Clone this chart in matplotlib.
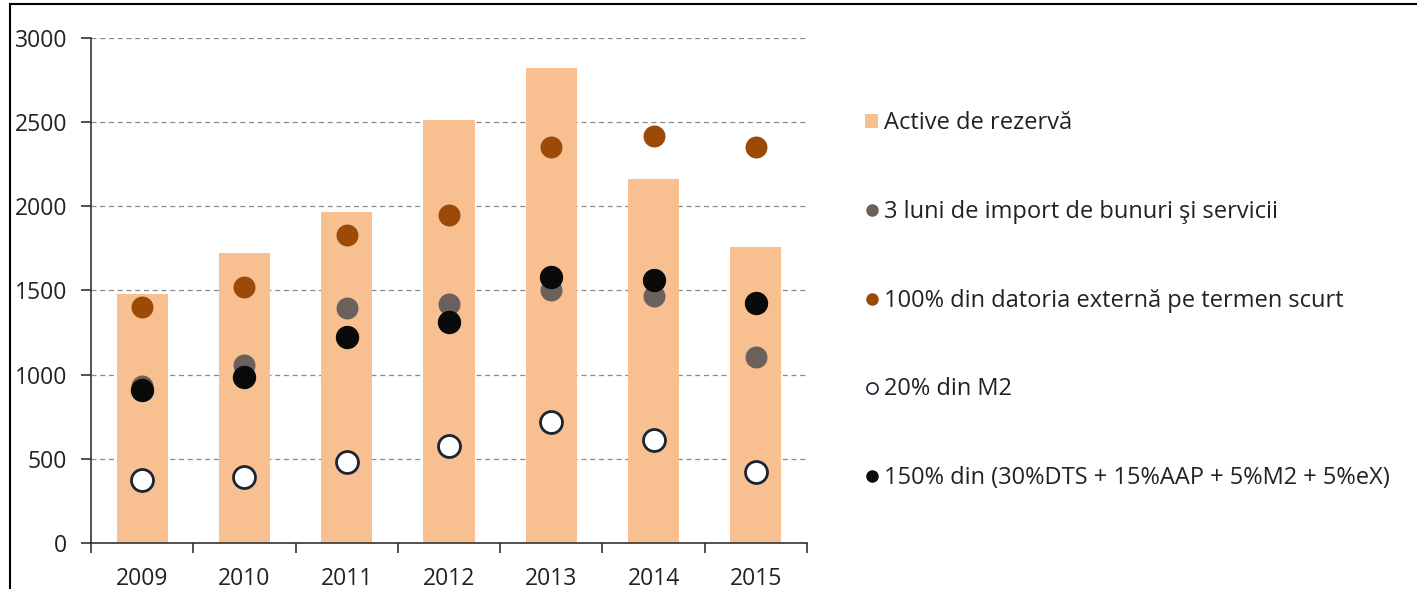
import matplotlib
matplotlib.use('Agg')
import matplotlib.pyplot as plt
from matplotlib.lines import Line2D
from matplotlib.patches import Patch
import numpy as np

plt.rcParams['font.family'] = ['Open Sans', 'DejaVu Sans']

# ---- data ----
years = ['2009', '2010', '2011', '2012', '2013', '2014', '2015']
active_rezerva = [1480, 1720, 1965, 2515, 2820, 2160, 1760]
import_3luni = [930, 1055, 1395, 1420, 1505, 1470, 1105]
datorie_termen_scurt = [1400, 1520, 1830, 1950, 2350, 2415, 2350]
m2_20 = [375, 395, 480, 575, 718, 612, 422]
compozit_150 = [910, 985, 1222, 1312, 1580, 1565, 1425]

labels = ['Active de rezervă',
          '3 luni de import de bunuri şi servicii',
          '100% din datoria externă pe termen scurt',
          '20% din M2',
          '150% din (30%DTS + 15%AAP + 5%M2 + 5%eX)']

# ---- colours ----
C_BAR = '#F8C091'
C_GRAY = '#6B605C'
C_BROWN = '#9C4A08'
C_BLACK = '#0A0A0A'
C_EDGE = '#1C2333'
C_TEXT = '#222222'

fig = plt.figure(figsize=(14.17, 5.89), dpi=100)
ax = fig.add_axes([0.0642, 0.0781, 0.5053, 0.8574])

x = np.arange(len(years))
ax.bar(x, active_rezerva, 0.5, color=C_BAR, zorder=2)

S = 250
ax.scatter(x, import_3luni, s=S, color=C_GRAY, linewidths=0, zorder=3)
ax.scatter(x, datorie_termen_scurt, s=S, color=C_BROWN, linewidths=0, zorder=3)
ax.scatter(x, compozit_150, s=S, color=C_BLACK, edgecolors=C_BLACK, linewidths=1, zorder=4)
ax.scatter(x, m2_20, s=S, color='white', edgecolors=C_EDGE, linewidths=2, zorder=5)

# ---- axes styling ----
ax.set_xlim(-0.5, len(years) - 0.5)
ax.set_ylim(0, 3000)
ax.set_yticks(np.arange(0, 3001, 500))
ax.set_xticks(x)
ax.set_xticklabels(years)
ax.set_xticks(np.arange(-0.5, len(years), 1.0), minor=True)
ax.tick_params(axis='x', which='major', length=0, pad=17, labelsize=16.5, colors=C_TEXT)
ax.tick_params(axis='x', which='minor', length=7, width=1.2, direction='out', color='#333333')
ax.tick_params(axis='y', length=7, width=1.2, direction='out', pad=10, labelsize=16.5,
               colors=C_TEXT)
ax.tick_params(axis='y', color='#333333')

for s in ['top', 'right']:
    ax.spines[s].set_visible(False)
for s in ['left', 'bottom']:
    ax.spines[s].set_color('#333333')
    ax.spines[s].set_linewidth(1.2)

for v in np.arange(500, 3001, 500):
    ax.axhline(v, color='#8a8a8a', linestyle=(0, (4, 3)), linewidth=0.9, zorder=1)

# ---- legend ----
handles = [
    Patch(facecolor=C_BAR, edgecolor='none'),
    Line2D([], [], marker='o', linestyle='none', markersize=8, markerfacecolor=C_GRAY, markeredgecolor=C_GRAY),
    Line2D([], [], marker='o', linestyle='none', markersize=8, markerfacecolor=C_BROWN, markeredgecolor=C_BROWN),
    Line2D([], [], marker='o', linestyle='none', markersize=8, markerfacecolor='white', markeredgecolor=C_EDGE, markeredgewidth=1.2),
    Line2D([], [], marker='o', linestyle='none', markersize=8, markerfacecolor=C_BLACK, markeredgecolor=C_BLACK),
]
leg = fig.legend(handles, labels, loc='upper left', bbox_to_anchor=(0.604, 0.827),
                 frameon=False, fontsize=17, labelspacing=2.74, handlelength=0.55,
                 handleheight=0.55, handletextpad=0.25, borderaxespad=0)
for t in leg.get_texts():
    t.set_color(C_TEXT)

# frame lines (top and left)
fig.add_artist(Line2D([0.007, 1.0], [0.993, 0.993], transform=fig.transFigure, color='black', linewidth=1.5))
fig.add_artist(Line2D([0.007, 0.007], [0.0, 0.993], transform=fig.transFigure, color='black', linewidth=1.5))

fig.savefig('out.png', dpi=100)
